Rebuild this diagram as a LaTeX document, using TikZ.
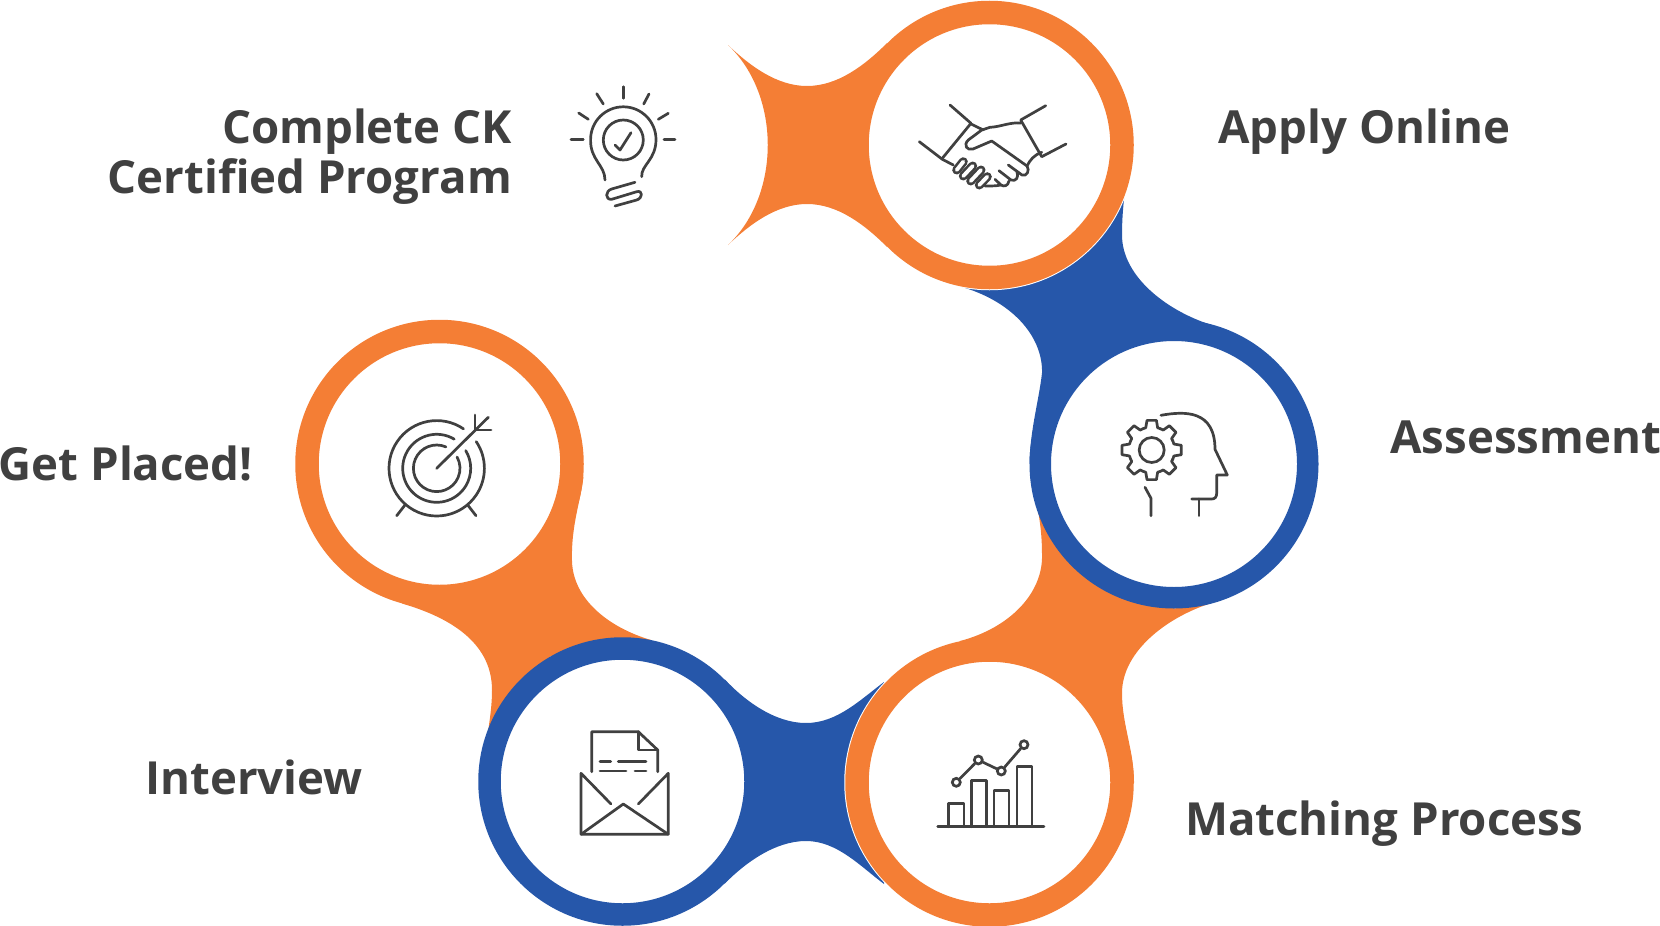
\documentclass[tikz,border=0pt]{standalone}
\usepackage{fontspec}
\setmainfont{Open Sans}
\usetikzlibrary{calc}

\definecolor{ckorange}{HTML}{F47E35}
\definecolor{ckblue}{HTML}{2657AA}
\definecolor{ckgrey}{HTML}{404040}

\tikzset{
    hub/.style = {circle, inner sep = 0pt, outer sep = 0pt, minimum size = 289pt},
    ring/.style = {circle, inner sep = 0pt, outer sep = 0pt, minimum size = 265pt,
        line width = 23.5pt, fill = white, draw = #1},
    halo/.style = {circle, inner sep = 0pt, outer sep = 0pt, minimum size = 290.5pt, fill = white},
    step label/.style = {font = \fontsize{45.6}{50}\selectfont\bfseries, text = ckgrey, inner sep = 0pt},
    icon/.style = {draw = ckgrey, line width = 2.7pt, line cap = round, line join = round},
    finger/.style = {line cap = round, line width = 9pt, draw = ckgrey,
        postaction = {draw = white, line width = 3.8pt}},
    plotdot/.style = {circle, draw = ckgrey, line width = 2.7pt, fill = white, inner sep = 0pt,
        minimum size = 8pt}
}

\begin{document}
\begin{tikzpicture}[x = 1pt, y = -1pt]
    \useasboundingbox (0,0) rectangle (1660,926);

    % where the circles sit
    \node[hub] (apply) at (989.5,145) {};
    \node[hub] (assess) at (1174,464) {};
    \node[hub] (match) at (989.5,782.5) {};
    \node[hub] (interview) at (622.5,781.5) {};
    \node[hub] (placed) at (439.5,464) {};

    % the bands, each one under the next circle
    \fill[ckorange] (placed.-5) .. controls (581,500) and (571,525) .. (572,561)
        .. controls (573,600) and (610,628) .. (651,640)
        -- (interview.120) -- (488,732) .. controls (490,718) and (492,705) .. (492,690)
        .. controls (492,640) and (445,616) .. (placed.-105) -- cycle;
    \node[ring = ckorange] (placedring) at (placed) {};

    \fill[ckblue] (interview.45) .. controls (745,701) and (775,723) .. (806,723)
        .. controls (837,723) and (860,700) .. (884,682) -- (884,884)
        .. controls (860,866) and (837,841) .. (806,841)
        .. controls (775,841) and (745,863) .. (interview.-45) -- cycle;
    \node[ring = ckblue, minimum size = 266pt, line width = 22.5pt] (interviewring) at (interview) {};

    \node[halo] (matchhalo) at (match) {};
    \fill[ckorange] (match.102) .. controls (1010,628) and (1043,593) .. (1042,555)
        .. controls (1042,535) and (1040,520) .. (1036,500) -- (assess.-90)
        -- (1215,602) .. controls (1170,615) and (1122,650) .. (1122,693)
        .. controls (1122,725) and (1134,750) .. (match.0) -- cycle;
    \node[ring = ckorange] (matchring) at (match) {};

    \fill[ckblue] (apply.-102) .. controls (1010,300) and (1043,335) .. (1042,373)
        .. controls (1039,400) and (1030,430) .. (assess.180) -- (assess.20)
        -- (1215,326) .. controls (1170,313) and (1122,278) .. (1122,235)
        .. controls (1122,210) and (1125,190) .. (1128,170) -- (apply.0) -- cycle;
    \node[ring = ckblue, minimum size = 267.5pt, line width = 21.5pt] (assessring) at (assess) {};

    \node[halo] (applyhalo) at (apply) {};
    \fill[ckorange] (apply.135) .. controls (865,65) and (838,86) .. (807,86)
        .. controls (777,86) and (750,66) .. (728,45)
        .. controls (781,95) and (781,195) .. (728,245)
        .. controls (750,224) and (777,204) .. (807,204)
        .. controls (838,204) and (865,225) .. (apply.-135) -- cycle;
    \node[ring = ckorange] (applyring) at (apply) {};

    % labels
    \node[step label, anchor = west] (applylabel) at (1218,131.5) {Apply Online};
    \node[step label, anchor = east] (assesslabel) at (1661,437) {Assessment};
    \node[step label, anchor = west] (matchlabel) at (1185,824) {Matching Process};
    \node[step label, anchor = east] (interviewlabel) at (363,777) {Interview};
    \node[step label, anchor = east] (placedlabel) at (253,463) {Get Placed!};
    \node[step label, anchor = east, align = right] (completelabel) at (512,157) {Complete CK\\Certified Program};

    % light bulb
    \draw[icon] (623.3,86.7) -- (623.3,98.3);
    \draw[icon] (649,94) -- (643.7,104);
    \draw[icon] (668.3,113.3) -- (658.3,119.3);
    \draw[icon] (675,139.7) -- (664,139.7);
    \draw[icon] (583.3,139.7) -- (571,139.7);
    \draw[icon] (588.3,119.3) -- (578.7,113);
    \draw[icon] (603.3,104) -- (596.7,93.7);
    \draw[icon] (605,180) .. controls (605,165) and (590,160) .. (590.6,139.5)
        arc[start angle = 180, end angle = 360, radius = 32.7]
        .. controls (656,160) and (641,165) .. (641.7,176.7);
    \node[circle, icon, minimum size = 40pt, inner sep = 0pt] (bulbcore) at (623.3,140) {};
    \draw[icon] (615,145) -- (620,150) -- (631,132.7);
    \draw[icon] (635,182.3) -- (611.7,189) .. controls (605,191) and (605,200) .. (611.7,199.3)
        -- (636.7,191.7) .. controls (643,190) and (643,198) .. (636.7,200) -- (615,206);

    % handshake
    \draw[icon] (950,105) -- (971,123.3) -- (942.3,158.3);
    \draw[icon] (919.3,141.7) -- (942.3,159.3) -- (953.3,165);
    \draw[icon] (971,124) -- (983.3,130);
    \draw[icon] (1045.7,105.7) -- (1020.7,120) -- (1041.7,156.7) -- (1066,144);
    \draw[finger] (979.3,185) -- (987.3,176.7);
    \draw[finger] (970.7,181) -- (981,170);
    \draw[finger] (963.3,176) -- (972.7,166);
    \draw[finger] (956.7,170) -- (963.3,161.7);
    \draw[icon] (1020.7,123) .. controls (1010,122) and (1000,127) .. (990,127.3)
        -- (981.7,130) -- (968.3,140) .. controls (963,145) and (967,151) .. (973,149)
        -- (991.7,141) -- (1027,166) .. controls (1030,170) and (1027,177) .. (1022,175)
        -- (1008.3,165);
    \draw[icon] (1041.7,152.3) .. controls (1034,155) and (1030,160) .. (1027,166);
    \draw[icon] (1017,172) .. controls (1019,177) and (1016,182) .. (1011,180) -- (999,170.7);
    \draw[icon] (1009,181) .. controls (1008,186) and (1004,187) .. (1001,185) -- (995,179.3);
    \draw[icon] (1001,185) .. controls (996,186) and (992,186) .. (985,186);

    % head with gear
    \begin{scope}[shift = {(1151.7,450)}, yscale = -1]
        \foreach \a in {0,45,...,315} {
            \draw[icon] (\a-22.5:23) -- (\a-15:23) -- (\a-9:30) -- (\a+9:30) -- (\a+15:23) -- (\a+22.5:23);
        }
    \end{scope}
    \node[circle, icon, minimum size = 25pt, inner sep = 0pt] (gearcore) at (1151.7,450) {};
    \draw[icon] (1161,415.3) .. controls (1185,411) and (1215,410) .. (1215,449.3)
        -- (1227.3,475) -- (1216.7,475) -- (1216.7,493) .. controls (1216.7,497) and (1215,499) .. (1211.7,499)
        -- (1191.7,499);
    \draw[icon] (1199,499) -- (1199,515.7);
    \draw[icon] (1145,487.3) -- (1151,498.3) -- (1151,515.7);

    % bar chart
    \draw[icon] (937.7,826.7) -- (1044,826.7);
    \draw[icon] (948.7,826.7) -- (948.7,803.3) -- (964,803.3) -- (964,826.7);
    \draw[icon] (971.7,826.7) -- (971.7,780.7) -- (986.7,780.7) -- (986.7,826.7);
    \draw[icon] (994,826.7) -- (994,790.3) -- (1009,790.3) -- (1009,826.7);
    \draw[icon] (1017,826.7) -- (1017,766.7) -- (1032,766.7) -- (1032,826.7);
    \node[plotdot] (pt1) at (956.3,782.3) {};
    \node[plotdot] (pt2) at (978.3,760) {};
    \node[plotdot] (pt3) at (1001.3,771) {};
    \node[plotdot] (pt4) at (1024,744.7) {};
    \draw[icon] (pt1) -- (pt2);
    \draw[icon] (pt2) -- (pt3);
    \draw[icon] (pt3) -- (pt4);

    % envelope with letter
    \draw[icon] (591.7,771.7) -- (591.7,731.7) -- (638.3,731.7) -- (657.7,750) -- (657.7,771.7);
    \draw[icon] (638.3,731.7) -- (638.3,750) -- (657.7,750);
    \draw[icon] (600,761.3) -- (610.7,761.3);
    \draw[icon] (618.3,761.3) -- (646,761.3);
    \draw[icon] (600,771) -- (626,771);
    \draw[icon] (635,771) -- (646,771);
    \draw[icon] (611,804) -- (581,773.3) -- (581,834.3) -- (668.3,834.3) -- (668.3,773.3) -- (638.3,804);
    \draw[icon] (581,834.3) -- (623.3,804) -- (668.3,834.3);

    % target
    \begin{scope}[shift = {(436.7,468.3)}, yscale = -1]
        \draw[icon] (55.8:47.7) arc[start angle = 55.8, end angle = 394, radius = 47.7];
        \draw[icon] (59:34) arc[start angle = 59, end angle = 391.4, radius = 34];
        \draw[icon] (66.7:23.3) arc[start angle = 66.7, end angle = 389, radius = 23.3];
    \end{scope}
    \draw[icon] (436.7,468.3) -- (488.3,417.3);
    \draw[icon] (475,415) -- (475,430) -- (491,430);
    \draw[icon] (405,505) -- (396.7,515.7);
    \draw[icon] (467.7,505) -- (476,515.7);
\end{tikzpicture}
\end{document}
